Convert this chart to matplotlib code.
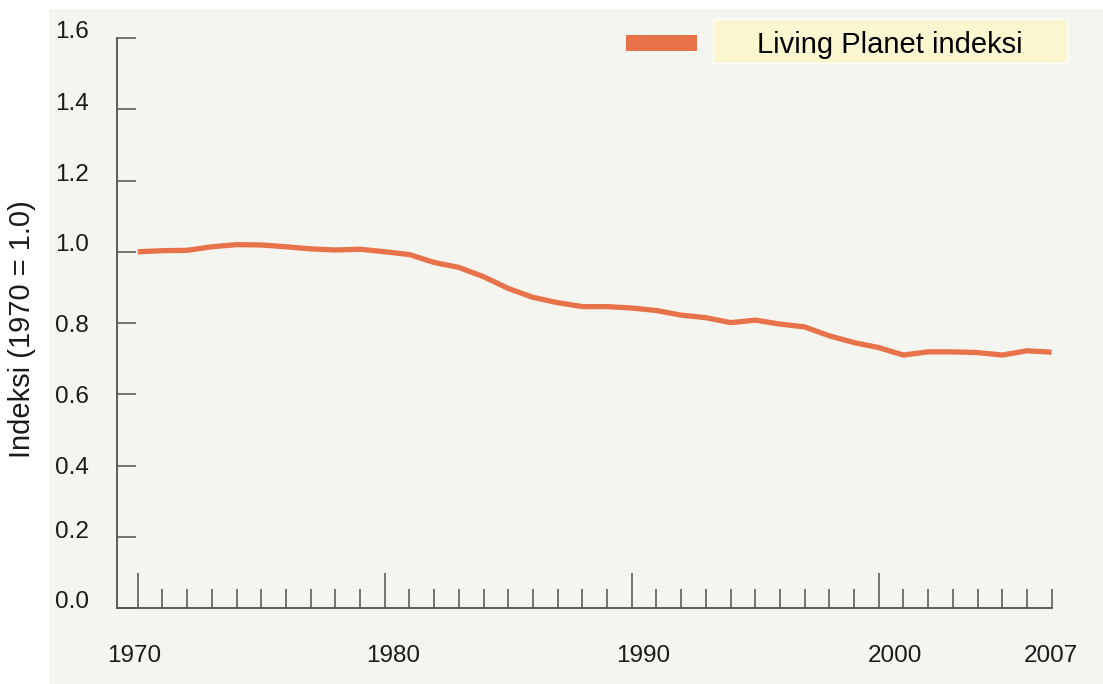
import numpy as np
import matplotlib.pyplot as plt
from matplotlib.patches import Rectangle
from matplotlib.transforms import ScaledTranslation

plt.rcParams['font.family'] = ['Liberation Sans', 'DejaVu Sans']

# ============== data ===================
years = list(range(1970, 2008))
lpi = [1.000, 1.003, 1.004, 1.014, 1.020, 1.019, 1.014, 1.008, 1.005, 1.007,
       1.000, 0.992, 0.970, 0.956, 0.930, 0.897, 0.872, 0.857, 0.846, 0.846,
       0.842, 0.835, 0.822, 0.815, 0.801, 0.808, 0.797, 0.789, 0.764, 0.745,
       0.731, 0.710, 0.719, 0.719, 0.717, 0.710, 0.722, 0.718]

y_ticks = [0.0, 0.2, 0.4, 0.6, 0.8, 1.0, 1.2, 1.4, 1.6]
y_labels = ['0.0', '0.2', '0.4', '0.6', '0.8', '1.0', '1.2', '1.4', '1.6']
x_major = [1970, 1980, 1990, 2000, 2007]
x_labels = ['1970', '1980', '1990', '2000', '2007']
legend_text = 'Living Planet indeksi'
y_title = 'Indeksi (1970 = 1.0)'

# ============== style ===================
W, H = 1103, 684
line_col = '#e8734a'
axis_col = '#505050'
text_col = '#1a1a1a'

fig = plt.figure(figsize=(W / 100, H / 100), dpi=100)
fig.patch.set_facecolor('white')
fig.patches.append(Rectangle((49 / W, 0), 1 - 49 / W, 1 - 9 / H,
                             transform=fig.transFigure, facecolor='#f5f5f0',
                             edgecolor='none', zorder=-5))

ax = fig.add_axes([117 / W, 76 / H, (1051.6 - 117) / W, 570 / H])
ax.set_facecolor('none')
ax.set_zorder(2)

ax.plot(years, lpi, color=line_col, lw=3.8, solid_capstyle='butt',
        solid_joinstyle='round', clip_on=False)

ax.set_xlim(1969.16, 2007)
ax.set_ylim(0, 1.6)

for s in ['top', 'right']:
    ax.spines[s].set_visible(False)
for s in ['left', 'bottom']:
    ax.spines[s].set_color(axis_col)
    ax.spines[s].set_linewidth(1.3)

# y axis
ax.set_yticks(y_ticks, labels=y_labels)
ax.tick_params(axis='y', direction='in', length=13.7, width=1.1, color=axis_col,
               pad=20, labelsize=17.5, labelcolor=text_col)
y_off = [8, 7, 0, 0, 0, 9, 8, 8, 8]
for lab, dy in zip(ax.get_yticklabels(), y_off):
    lab.set_transform(lab.get_transform() + ScaledTranslation(0, dy / 100, fig.dpi_scale_trans))

# x axis
ax.set_xticks(x_major, labels=x_labels)
ax.set_xticks([y for y in years if y not in x_major], minor=True)
ax.tick_params(axis='x', which='major', direction='in', length=25, width=1.1,
               color=axis_col, pad=27, labelsize=17.5, labelcolor=text_col)
ax.tick_params(axis='x', which='minor', direction='in', length=13.7, width=1.1,
               color=axis_col)
x_off = [-4, 8, 11, 16, -1]
for lab, dx in zip(ax.get_xticklabels(), x_off):
    lab.set_transform(lab.get_transform() + ScaledTranslation(dx / 100, 0, fig.dpi_scale_trans))
ax.xaxis.get_major_ticks()[-1].tick1line.set_markersize(13.7)

ax.set_ylabel(y_title, fontsize=21, color=text_col)
ax.yaxis.set_label_coords(-0.087, 0.49)

# legend
fig.patches.append(Rectangle((626 / W, 1 - 51 / H), 71 / W, 16 / H,
                             transform=fig.transFigure, facecolor=line_col,
                             edgecolor='none'))
fig.patches.append(Rectangle((713 / W, 1 - 63 / H), 354 / W, 44 / H,
                             transform=fig.transFigure, facecolor='#faf7d0',
                             edgecolor='white', lw=1))
fig.text(890 / W, 1 - 52.7 / H, legend_text, ha='center', va='baseline',
         fontsize=21, color='black')

plt.savefig('out.png', dpi=100)
